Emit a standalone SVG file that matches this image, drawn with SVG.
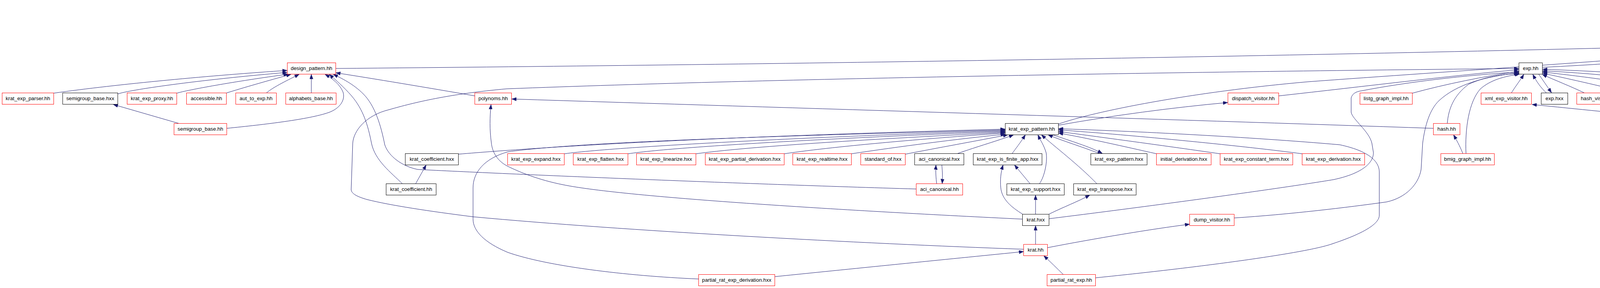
<svg xmlns="http://www.w3.org/2000/svg" width="5020" height="736" viewBox="0 0 5020 736">
<style>
rect{fill:#fff;stroke:#000;stroke-width:1}
rect.r{stroke:#f00}
rect.g{fill:#bfbfbf}
text{font-family:"Liberation Sans",Arial,sans-serif;font-size:13.3px;text-anchor:middle;fill:#000}
#edges path{fill:none;stroke:#191970;stroke-width:1;marker-end:url(#a)}
</style>
<defs>
<marker id="a" markerUnits="userSpaceOnUse" markerWidth="12" markerHeight="9" refX="12" refY="4.5" orient="auto">
<path d="M0,0 L12,4.5 L0,9 z" fill="#191970" stroke="#191970" stroke-width="0.5"/>
</marker>
</defs>
<rect x="0" y="0" width="5020" height="736" style="fill:#fff;stroke:none"/>
<g id="edges">
<path d="M4540,83.5 C4538,68 4538,52 4539,35"/>
<path d="M4554,35 C4555,50 4555,66 4555,83"/>
<path d="M4644,83.5 C4625,66 4600,52 4577,35"/>
<path d="M4695,160.5 C4688,145 4680,130 4674,113"/>
<path d="M4686,112.5 C4693,128 4701,144 4707,160"/>
<path d="M4800,160.5 L4711,113"/>
<path d="M4908.5,161 L4712,110"/>
<path d="M4583,315.5 C4600,255 4645,165 4662,113"/>
<path d="M859.5,175 C2000,165 3500,142 4627,109"/>
<path d="M3948.5,172 C4200,160 4450,138 4624,113"/>
<path d="M2709.5,317 C2800,285 3050,235 3348,209 C3700,183 4300,145 4620,112.5"/>
<path d="M4577,315.5 C4578,270 4572,240 4545,232 C4450,205 4200,186 3949,177"/>
<path d="M4532.5,327 C4400,315 4150,290 3922,267"/>
<path d="M4317,238 C4200,215 4050,195 3949,184"/>
<path d="M4445,238 C4300,210 4100,188 3949,181"/>
<path d="M4170,238 C4100,220 4000,198 3949,187"/>
<path d="M4056,237.5 C4020,220 3980,205 3948,190"/>
<path d="M3959,237.5 C3945,225 3933,208 3924,190"/>
<path d="M3939,189.5 C3950,205 3960,220 3972,237"/>
<path d="M3869,237.5 C3880,220 3892,205 3901,190"/>
<path d="M3616,238 C3700,215 3800,195 3888,182"/>
<path d="M3274,245 C3500,220 3700,195 3888,178"/>
<path d="M2620.5,637 C2200,622 1600,590 1211,554 C1100,540 1000,525 940,510 C915,503 899,495 899,484 L903,366 C905,335 935,295 997,280 C1060,262 1150,240 1297,227 C2000,200 3000,184 3888,175"/>
<path d="M2685.5,559 C3000,520 3300,478 3414,459 C3480,445 3516,420 3516,390 L3512,366 C3505,335 3462,305 3459,287 L3459,250 C3462,240 3470,234 3486,232 C3600,210 3750,192 3888,184"/>
<path d="M3159.5,557 C3300,548 3450,530 3550,516 C3600,505 3632,470 3638,433 L3642,366 C3648,320 3660,280 3684,257 C3730,215 3800,196 3888,186"/>
<path d="M3705,315.5 C3708,280 3720,245 3760,215 C3800,197 3840,190 3888,188"/>
<path d="M3753,392.5 C3750,330 3760,260 3790,227 C3815,205 3850,195 3890,189.5"/>
<path d="M3745,392.5 C3740,380 3733,365 3721,344.5"/>
<path d="M3669.5,328 C3000,305 2000,275 1310,253"/>
<path d="M2617.5,560 C2200,540 1600,505 1441,472 C1380,460 1330,440 1300,425 C1270,410 1260,385 1258,366 C1253,330 1254,300 1257,267"/>
<path d="M1215.5,245 C1100,225 950,200 859.5,186"/>
<path d="M1030,469.5 C1000,440 960,410 951,366 C942,320 930,280 900,245 C880,222 860,205 843,190"/>
<path d="M2345.5,483 C1900,470 1300,445 1069,433 C1030,425 995,400 985,370 C975,320 960,270 930,240 C905,215 875,200 853,190"/>
<path d="M580,328 C680,318 790,305 840,288 C870,278 885,255 878,235 C870,215 850,200 832,190"/>
<path d="M458,315.5 L290,267"/>
<path d="M138,238 C300,215 550,192 735,180"/>
<path d="M302,240 C330,230 500,205 735,185"/>
<path d="M453,238 C480,230 600,208 738,189.5"/>
<path d="M580,237.5 C620,225 690,205 745,190"/>
<path d="M682,237.5 C700,222 740,203 766,190"/>
<path d="M797,237.5 L797,190"/>
<path d="M1173.5,394 C1400,375 1800,350 2573,330"/>
<path d="M1788.5,713 C1600,705 1400,680 1300,645 C1240,620 1211,590 1211,560 L1211,480 C1211,440 1240,405 1300,388 C1500,360 2100,345 2573,332"/>
<path d="M1444.5,393 C1600,372 2200,345 2573,334"/>
<path d="M1607.5,393 C1750,372 2250,348 2573,336"/>
<path d="M1781.5,393 C1950,370 2350,350 2573,338"/>
<path d="M2007.5,393 C2150,372 2400,352 2573,340"/>
<path d="M2179.5,393 C2300,375 2450,355 2574,343"/>
<path d="M2317.5,394 C2400,378 2500,360 2580,344.5"/>
<path d="M2451,392.5 C2500,375 2560,358 2595,344.5"/>
<path d="M2591,392.5 C2600,380 2612,365 2625,344.5"/>
<path d="M2661,469.5 C2675,450 2682,410 2678,390 C2672,370 2664,360 2657,344.5"/>
<path d="M2808,469.5 C2760,420 2700,375 2666,344.5"/>
<path d="M2815,392.5 C2770,375 2720,360 2683,344.5"/>
<path d="M2695,344.5 C2740,360 2790,375 2822,392"/>
<path d="M2961,393 C2880,375 2780,352 2709.5,340"/>
<path d="M3123.5,393 C3000,375 2800,348 2709.5,336"/>
<path d="M3333.5,393 C3200,375 2900,345 2709.5,332"/>
<path d="M2804.5,710 C3100,680 3350,645 3411,623 C3480,600 3531,575 3531,550 L3531,440 C3531,410 3500,385 3430,370 C3200,350 2900,335 2709.5,329"/>
<path d="M2709.5,320 C2850,295 3000,275 3143,262"/>
<path d="M1064,469.5 L1091,421.5"/>
<path d="M2398,469.5 C2396,455 2395,440 2396,421.5"/>
<path d="M2411,421.5 C2413,440 2413,455 2412,469.5"/>
<path d="M2651,547.5 L2651,498.5"/>
<path d="M2685,547.5 C2720,530 2760,515 2790,498.5"/>
<path d="M2617.5,547 C2590,530 2565,510 2562,480 C2560,460 2562,440 2568,421.5"/>
<path d="M2637,469.5 L2597,421.5"/>
<path d="M2651,624.5 L2651,576.5"/>
<path d="M2681.5,633 C2800,610 2950,585 3045.5,573"/>
<path d="M2722,701.5 C2705,685 2690,670 2672,653.5"/>
<path d="M1983.5,707 C2200,685 2450,660 2620.5,643"/>
</g>
<g id="n1"><rect class="g" x="4493.5" y="5.5" width="107" height="29"/><text x="4547" y="23.5">default_ops.hh</text></g>
<g id="n2"><rect x="4491.5" y="83.5" width="112" height="29"/><text x="4547.5" y="101.5">default_ops.hxx</text></g>
<g id="n3"><rect x="4627.5" y="83.5" width="84" height="29"/><text x="4669.5" y="101.5">element.hh</text></g>
<g id="n4"><rect class="r" x="735.5" y="160.5" width="124" height="29"/><text x="797.5" y="178.5">design_pattern.hh</text></g>
<g id="n5"><rect x="3888.5" y="160.5" width="60" height="29"/><text x="3918.5" y="178.5">exp.hh</text></g>
<g id="n6"><rect x="4665.5" y="160.5" width="92" height="29"/><text x="4711.5" y="178.5">element.hxx</text></g>
<g id="n7"><rect class="r" x="4780.5" y="160.5" width="105" height="29"/><text x="4833" y="178.5">dot_display.hh</text></g>
<g id="n8"><rect x="4908.5" y="160.5" width="107" height="29"/><text x="4962" y="178.5">xml_display.hh</text></g>
<g id="n9"><rect class="r" x="5.5" y="237.5" width="132" height="29"/><text x="71.5" y="255.5">krat_exp_parser.hh</text></g>
<g id="n10"><rect x="160.5" y="237.5" width="141" height="29"/><text x="231" y="255.5">semigroup_base.hxx</text></g>
<g id="n11"><rect class="r" x="325.5" y="237.5" width="127" height="29"/><text x="389" y="255.5">krat_exp_proxy.hh</text></g>
<g id="n12"><rect class="r" x="477.5" y="237.5" width="102" height="29"/><text x="528.5" y="255.5">accessible.hh</text></g>
<g id="n13"><rect class="r" x="603.5" y="237.5" width="104" height="29"/><text x="655.5" y="255.5">aut_to_exp.hh</text></g>
<g id="n14"><rect class="r" x="731.5" y="237.5" width="129" height="29"/><text x="796" y="255.5">alphabets_base.hh</text></g>
<g id="n15"><rect class="r" x="1215.5" y="237.5" width="94" height="29"/><text x="1262.5" y="255.5">polynoms.hh</text></g>
<g id="n16"><rect class="r" x="3143.5" y="237.5" width="130" height="29"/><text x="3208.5" y="255.5">dispatch_visitor.hh</text></g>
<g id="n17"><rect class="r" x="3481.5" y="237.5" width="134" height="29"/><text x="3548.5" y="255.5">listg_graph_impl.hh</text></g>
<g id="n18"><rect class="r" x="3791.5" y="237.5" width="129" height="29"/><text x="3856" y="255.5">xml_exp_visitor.hh</text></g>
<g id="n19"><rect x="3945.5" y="237.5" width="68" height="29"/><text x="3979.5" y="255.5">exp.hxx</text></g>
<g id="n20"><rect class="r" x="4036.5" y="237.5" width="109" height="29"/><text x="4091" y="255.5">hash_visitor.hh</text></g>
<g id="n21"><rect class="r" x="4169.5" y="237.5" width="124" height="29"/><text x="4231.5" y="255.5">reverse_visitor.hh</text></g>
<g id="n22"><rect class="r" x="4316.5" y="237.5" width="105" height="29"/><text x="4369" y="255.5">equivalent.hxx</text></g>
<g id="n23"><rect class="r" x="4444.5" y="237.5" width="96" height="29"/><text x="4492.5" y="255.5">thompson.hh</text></g>
<g id="n24"><rect class="r" x="445.5" y="315.5" width="135" height="29"/><text x="513" y="333.5">semigroup_base.hh</text></g>
<g id="n25"><rect x="2573.5" y="315.5" width="136" height="29"/><text x="2641.5" y="333.5">krat_exp_pattern.hh</text></g>
<g id="n26"><rect class="r" x="3669.5" y="315.5" width="68" height="29"/><text x="3703.5" y="333.5">hash.hh</text></g>
<g id="n27"><rect class="r" x="4532.5" y="315.5" width="92" height="29"/><text x="4578.5" y="333.5">builders.hxx</text></g>
<g id="n28"><rect x="1037.5" y="392.5" width="136" height="29"/><text x="1105.5" y="410.5">krat_coefficient.hxx</text></g>
<g id="n29"><rect class="r" x="1299.5" y="392.5" width="145" height="29"/><text x="1372" y="410.5">krat_exp_expand.hxx</text></g>
<g id="n30"><rect class="r" x="1467.5" y="392.5" width="140" height="29"/><text x="1537.5" y="410.5">krat_exp_flatten.hxx</text></g>
<g id="n31"><rect class="r" x="1629.5" y="392.5" width="152" height="29"/><text x="1705.5" y="410.5">krat_exp_linearize.hxx</text></g>
<g id="n32"><rect class="r" x="1805.5" y="392.5" width="202" height="29"/><text x="1906.5" y="410.5">krat_exp_partial_derivation.hxx</text></g>
<g id="n33"><rect class="r" x="2029.5" y="392.5" width="150" height="29"/><text x="2104.5" y="410.5">krat_exp_realtime.hxx</text></g>
<g id="n34"><rect class="r" x="2203.5" y="392.5" width="114" height="29"/><text x="2260.5" y="410.5">standard_of.hxx</text></g>
<g id="n35"><rect x="2341.5" y="392.5" width="126" height="29"/><text x="2404.5" y="410.5">aci_canonical.hxx</text></g>
<g id="n36"><rect x="2491.5" y="392.5" width="176" height="29"/><text x="2579.5" y="410.5">krat_exp_is_finite_app.hxx</text></g>
<g id="n37"><rect x="2792.5" y="392.5" width="144" height="29"/><text x="2864.5" y="410.5">krat_exp_pattern.hxx</text></g>
<g id="n38"><rect class="r" x="2960.5" y="392.5" width="140" height="29"/><text x="3030.5" y="410.5">initial_derivation.hxx</text></g>
<g id="n39"><rect class="r" x="3123.5" y="392.5" width="186" height="29"/><text x="3216.5" y="410.5">krat_exp_constant_term.hxx</text></g>
<g id="n40"><rect class="r" x="3333.5" y="392.5" width="160" height="29"/><text x="3413.5" y="410.5">krat_exp_derivation.hxx</text></g>
<g id="n41"><rect class="r" x="3688.5" y="392.5" width="137" height="29"/><text x="3757" y="410.5">bmig_graph_impl.hh</text></g>
<g id="n42"><rect x="988.5" y="469.5" width="128" height="29"/><text x="1052.5" y="487.5">krat_coefficient.hh</text></g>
<g id="n43"><rect class="r" x="2345.5" y="469.5" width="119" height="29"/><text x="2405" y="487.5">aci_canonical.hh</text></g>
<g id="n44"><rect x="2577.5" y="469.5" width="147" height="29"/><text x="2651" y="487.5">krat_exp_support.hxx</text></g>
<g id="n45"><rect x="2748.5" y="469.5" width="160" height="29"/><text x="2828.5" y="487.5">krat_exp_transpose.hxx</text></g>
<g id="n46"><rect x="2617.5" y="547.5" width="68" height="29"/><text x="2651.5" y="565.5">krat.hxx</text></g>
<g id="n47"><rect class="r" x="3045.5" y="547.5" width="114" height="29"/><text x="3102.5" y="565.5">dump_visitor.hh</text></g>
<g id="n48"><rect class="r" x="2620.5" y="624.5" width="61" height="29"/><text x="2651" y="642.5">krat.hh</text></g>
<g id="n49"><rect class="r" x="1788.5" y="701.5" width="195" height="29"/><text x="1886" y="719.5">partial_rat_exp_derivation.hxx</text></g>
<g id="n50"><rect class="r" x="2680.5" y="701.5" width="124" height="29"/><text x="2742.5" y="719.5">partial_rat_exp.hh</text></g>
</svg>
